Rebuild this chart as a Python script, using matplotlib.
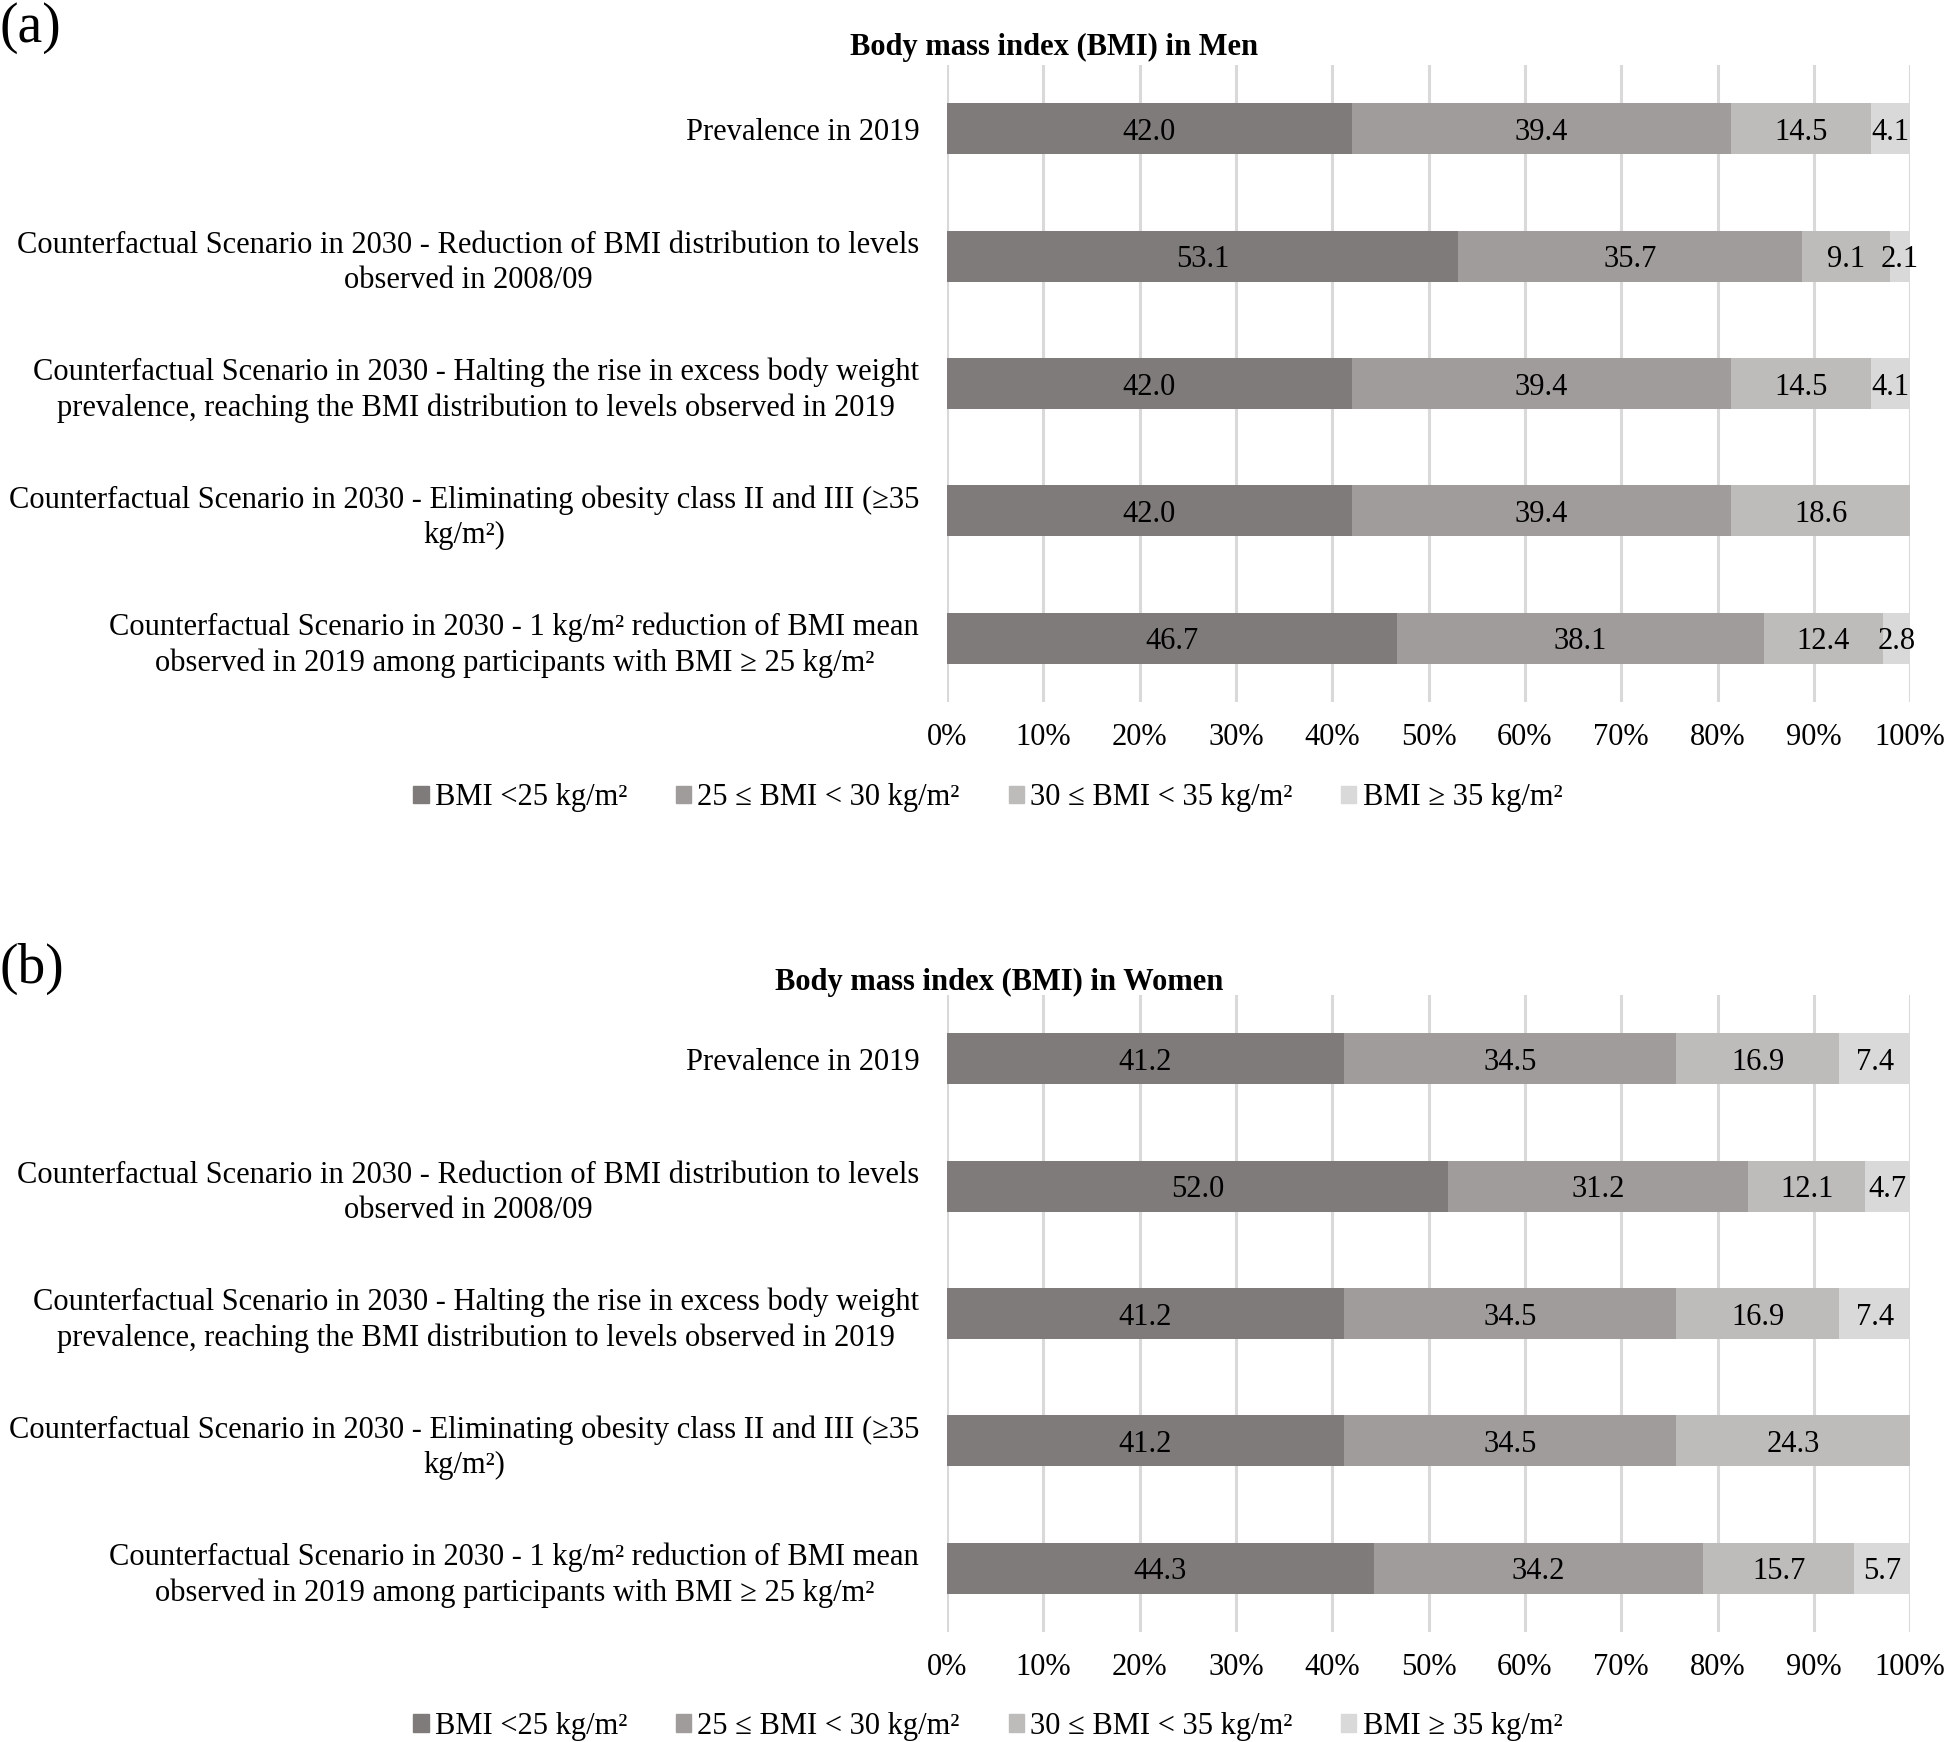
import numpy as np
import matplotlib
matplotlib.use("Agg")
import matplotlib.pyplot as plt
from matplotlib.patches import Patch

plt.rcParams['font.family'] = ['Liberation Serif', 'DejaVu Serif']

# ---------- DATA ----------
categories = [
    "Prevalence in 2019",
    "Counterfactual Scenario in 2030 - Reduction of BMI distribution to levels\nobserved in 2008/09",
    "Counterfactual Scenario in 2030 - Halting the rise in excess body weight\nprevalence, reaching the BMI distribution to levels observed in 2019",
    "Counterfactual Scenario in 2030 - Eliminating obesity class II and III (≥35\nkg/m²)",
    "Counterfactual Scenario in 2030 - 1 kg/m² reduction of BMI mean\nobserved in 2019 among participants with BMI ≥ 25 kg/m²",
]
series_names = ["BMI <25 kg/m²", "25 ≤ BMI < 30 kg/m²", "30 ≤ BMI < 35 kg/m²", "BMI ≥ 35 kg/m²"]

# columns follow series_names, rows follow categories
men = [
    [42.0, 39.4, 14.5, 4.1],
    [53.1, 35.7, 9.1, 2.1],
    [42.0, 39.4, 14.5, 4.1],
    [42.0, 39.4, 18.6, 0.0],
    [46.7, 38.1, 12.4, 2.8],
]
women = [
    [41.2, 34.5, 16.9, 7.4],
    [52.0, 31.2, 12.1, 4.7],
    [41.2, 34.5, 16.9, 7.4],
    [41.2, 34.5, 24.3, 0.0],
    [44.3, 34.2, 15.7, 5.7],
]
x_ticks = [0, 10, 20, 30, 40, 50, 60, 70, 80, 90, 100]
# --------------------------

colors = ["#7f7b7a", "#a09c9b", "#bebcbb", "#d9d9d9"]
FS = 22

fig = plt.figure(figsize=(19.52, 17.42), dpi=100)


def draw_panel(ax, data, title, title_x, title_y):
    data = np.array(data)
    y = np.arange(len(categories))
    left = np.zeros(len(categories))
    for j in range(data.shape[1]):
        vals = data[:, j]
        ax.barh(y, vals, left=left, height=0.4, color=colors[j], zorder=3)
        for i, v in enumerate(vals):
            if v > 0:
                ax.text(left[i] + v / 2, y[i], f"{v:.1f}", ha='center', va='center_baseline',
                        fontsize=FS, zorder=4)
        left = left + vals
    ax.set_xlim(0, 100)
    ax.set_ylim(len(categories) - 0.5, -0.5)
    ax.set_xticks(x_ticks)
    ax.set_xticklabels([f"{t}%" for t in x_ticks], fontsize=FS)
    ax.set_yticks(y)
    ax.set_yticklabels(categories, fontsize=FS, multialignment='center', linespacing=1.3)
    ax.tick_params(axis='x', length=0, pad=15)
    ax.tick_params(axis='y', length=0, pad=20)
    ax.grid(axis='x', color='#d9d9d9', linewidth=2.2, zorder=0)
    for s in ax.spines.values():
        s.set_visible(False)
    fig.text(title_x, title_y, title, ha='center', va='center', fontsize=FS, fontweight='bold')


ax_a = fig.add_axes([0.4851, 0.5970, 0.4935, 0.3657])
draw_panel(ax_a, men, "Body mass index (BMI) in Men", 0.540, 0.973)
ax_b = fig.add_axes([0.4851, 0.0631, 0.4935, 0.3657])
draw_panel(ax_b, women, "Body mass index (BMI) in Women", 0.512, 0.436)

fig.text(0.0, 0.984, "(a)", ha='left', va='center', fontsize=40)
fig.text(0.0, 0.444, "(b)", ha='left', va='center', fontsize=40)

handles = [Patch(color=c) for c in colors]
for ly in (0.542, 0.009):
    fig.legend(handles, series_names, loc='center', bbox_to_anchor=(0.506, ly), ncol=4,
               frameon=False, fontsize=FS, handlelength=0.5, handleheight=0.5,
               handletextpad=0.2, columnspacing=1.6)

fig.savefig("out.png", dpi=100)
